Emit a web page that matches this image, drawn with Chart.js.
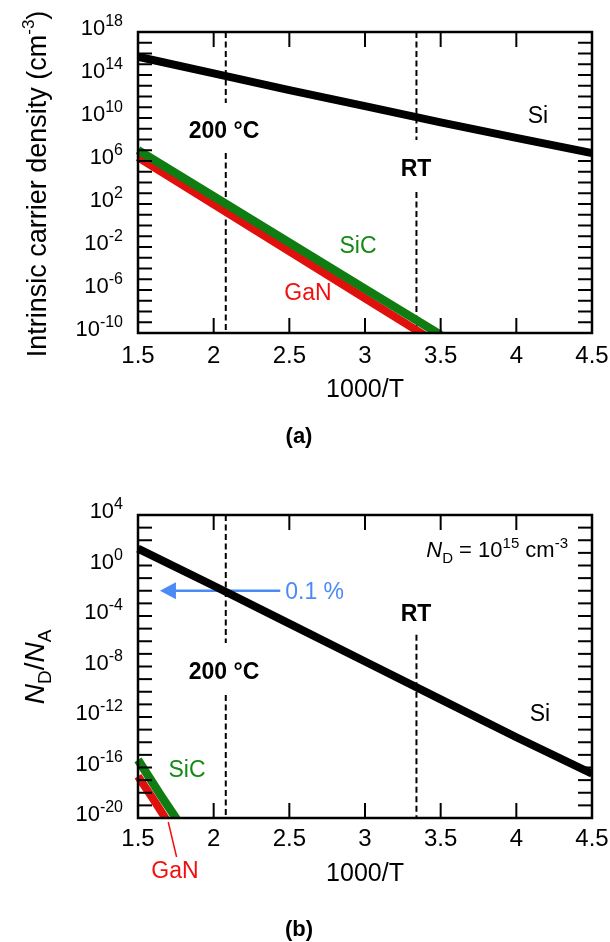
<!DOCTYPE html>
<html>
<head>
<meta charset="utf-8">
<script src="https://cdn.jsdelivr.net/npm/chart.js@4.4.1/dist/chart.umd.min.js"></script>
<style>
  html,body{margin:0;padding:0;background:#fff;}
  #wrap{position:relative;width:610px;height:942px;}
  canvas{position:absolute;left:0;}
</style>
</head>
<body>
<div id="wrap">
  <canvas id="chartA" width="610" height="470" style="top:0"></canvas>
  <canvas id="chartB" width="610" height="472" style="top:470px"></canvas>
</div>
<script>
/* ---------- data ---------- */
const xTicks = [1.5, 2, 2.5, 3, 3.5, 4, 4.5];
const xTickLabels = ['1.5', '2', '2.5', '3', '3.5', '4', '4.5'];

// (a) intrinsic carrier density
const yExpA = [18, 14, 10, 6, 2, -2, -6, -10];
const siX = [1.5, 2, 2.5, 3, 3.5, 4, 4.5];
const siNi = [5.0e15, 1.41e14, 3.98e12, 1.26e11, 3.98e9, 1.41e8, 5.6e6];
const sicX = [1.5, 2, 2.5, 3, 3.5];
const sicNi = [1.05e7, 5.2e2, 2.6e-2, 1.3e-6, 6.6e-11];
const ganX = [1.5, 2, 2.5, 3, 3.4];
const ganNi = [2.2e6, 9.3e1, 4.0e-3, 1.7e-7, 5.4e-11];

// (b) ND/NA
const yExpB = [4, 0, -4, -8, -12, -16, -20];
const siRatio = [22, 2.5e-2, 2.5e-5, 2.5e-8, 2.5e-11, 2.5e-14, 3.2e-17];
const sicRX = [1.5, 1.65, 1.8];
const sicRatio = [4e-16, 6.3e-19, 1.3e-21];
const ganRX = [1.5, 1.6, 1.75];
const ganRatio = [2e-17, 3.2e-19, 5e-22];

// reference temperatures (1000/T) and the dashed segments (y from, y to)
const x200 = 2.08, xRT = 3.34;
const dash200A = [[1e18, 2.5e11], [5.5e6, 1e-10]];
const dashRTA  = [[1e18, 9e7], [1.3e3, 1e-10]];
const dash200B = [[1e4, 7.4e-7], [5.6e-11, 1e-20]];
const dashRTB  = [[3.2e-6, 1e-20]];
const arrowY = 1e-2, arrowFrom = 2.44, arrowTo = 1.645;

/* ---------- styles ---------- */
const FONT = '"Liberation Sans", Arial, Helvetica, sans-serif';
const GREEN = '#0f7d12', GREEN_T = '#138a16';
const RED = '#e0100c', RED_T = '#f01010';
const BLUE = '#4a8af4';

const pts = (xs, ys) => xs.map((x, i) => ({x, y: ys[i]}));
function dashPts(x, segs){
  const out = [];
  segs.forEach((s, i) => {
    if(i) out.push({x, y: null});
    out.push({x, y: s[0]}, {x, y: s[1]});
  });
  return out;
}
function curve(data, color, w){
  return {data, borderColor: color, borderWidth: w, pointRadius: 0, tension: 0,
    borderCapStyle: 'butt', clip: {left: 4, top: 0, right: 0, bottom: 0}};
}
function dashed(data){
  return {data, borderColor: '#000', borderWidth: 2, borderDash: [6, 3.5], pointRadius: 0,
    spanGaps: false, clip: 0};
}

/* text with runs (sub/superscripts) */
function fontOf(r){ return `${r.it ? 'italic ' : ''}${r.b ? 'bold ' : ''}${r.s}px ${FONT}`; }
function runsWidth(ctx, runs){
  let w = 0;
  runs.forEach(r => { ctx.font = fontOf(r); w += ctx.measureText(r.t).width; });
  return w;
}
function drawRuns(ctx, runs, x, y, align, color){
  const w = runsWidth(ctx, runs);
  let cx = align === 'right' ? x - w : align === 'center' ? x - w / 2 : x;
  ctx.fillStyle = color || '#000';
  ctx.textAlign = 'left'; ctx.textBaseline = 'alphabetic';
  runs.forEach(r => {
    ctx.font = fontOf(r);
    ctx.fillText(r.t, cx, y + (r.dy || 0));
    cx += ctx.measureText(r.t).width;
  });
}
function text(ctx, n){
  drawRuns(ctx, [{t: n.t, s: n.size, b: n.bold}], n.x, n.y + 0.358 * n.size, 'center', n.color);
}
function line(ctx, x1, y1, x2, y2){ ctx.beginPath(); ctx.moveTo(x1, y1); ctx.lineTo(x2, y2); ctx.stroke(); }

/* frame, inward ticks, labels */
function framePlugin(opt){
  return {
    id: 'frame',
    afterDatasetsDraw(chart){
      const {ctx, chartArea: a, scales: {x, y}} = chart;
      ctx.save();
      ctx.strokeStyle = '#000'; ctx.lineWidth = 2;
      for(let e = opt.minExp; e <= opt.maxExp; e++){
        const py = y.getPixelForValue(Math.pow(10, e));
        line(ctx, a.left, py, a.left + 14, py);
        line(ctx, a.right - 14, py, a.right, py);
      }
      xTicks.forEach(v => {
        const px = x.getPixelForValue(v);
        line(ctx, px, a.top, px, a.top + 15);
        line(ctx, px, a.bottom - 15, px, a.bottom);
      });
      ctx.lineWidth = 2.5;
      ctx.strokeRect(a.left, a.top, a.right - a.left, a.bottom - a.top);

      // y tick labels 10^n
      opt.yExps.forEach(e => {
        const py = y.getPixelForValue(Math.pow(10, e));
        drawRuns(ctx, [{t: '10', s: 22}, {t: String(e), s: 16, dy: -9}], a.left - 15, py + 3, 'right');
      });
      // x tick labels
      xTicks.forEach((v, i) => {
        drawRuns(ctx, [{t: xTickLabels[i], s: 24}], x.getPixelForValue(v), a.bottom + opt.xLab + 8.6, 'center');
      });
      // y title
      ctx.save();
      ctx.translate(opt.yTitle.x, opt.yTitle.y);
      ctx.rotate(-Math.PI / 2);
      drawRuns(ctx, opt.yTitle.runs, 0, 0, 'center');
      ctx.restore();

      opt.notes.forEach(n => text(ctx, n));
      if(opt.extra) opt.extra(chart);
      ctx.restore();
    }
  };
}

function baseOptions(minV, maxV, padTop, xH){
  return {
    responsive: false, animation: false,
    layout: {padding: {top: padTop, right: 18, left: 0, bottom: 0}},
    plugins: {legend: {display: false}, tooltip: {enabled: false}},
    scales: {
      x: {type: 'linear', min: 1.5, max: 4.5, grid: {display: false}, border: {display: false},
          ticks: {display: false}, afterFit: s => { s.height = xH; }},
      y: {type: 'logarithmic', min: minV, max: maxV, grid: {display: false}, border: {display: false},
          ticks: {display: false}, afterFit: s => { s.width = 138; }}
    }
  };
}

/* ---------- (a) ---------- */
new Chart(document.getElementById('chartA'), {
  type: 'line',
  data: {datasets: [
    curve(pts(siX, siNi), '#000', 8),
    curve(pts(sicX, sicNi), GREEN, 8.5),
    curve(pts(ganX, ganNi), RED, 8),
    dashed(dashPts(x200, dash200A)),
    dashed(dashPts(xRT, dashRTA))
  ]},
  options: baseOptions(1e-10, 1e18, 32, 137),
  plugins: [framePlugin({
    minExp: -10, maxExp: 18, yExps: yExpA, xLab: 21,
    yTitle: {x: 46, y: 184, runs: [{t: 'Intrinsic carrier density (cm', s: 27}, {t: '-3', s: 17, dy: -12}, {t: ')', s: 27}]},
    notes: [
      {t: 'Si', x: 538, y: 115, size: 23},
      {t: 'SiC', x: 358, y: 245, size: 23, color: GREEN_T},
      {t: 'GaN', x: 308, y: 292, size: 23, color: RED_T},
      {t: '200 °C', x: 224, y: 130, size: 23, bold: true},
      {t: 'RT', x: 416, y: 168, size: 23, bold: true},
      {t: '1000/T', x: 365, y: 388, size: 25},
      {t: '(a)', x: 299, y: 435, size: 22, bold: true}
    ]
  })]
});

/* ---------- (b) ---------- */
new Chart(document.getElementById('chartB'), {
  type: 'line',
  data: {datasets: [
    curve(pts(siX, siRatio), '#000', 8),
    curve(pts(sicRX, sicRatio), GREEN, 8.5),
    curve(pts(ganRX, ganRatio), RED, 8),
    dashed(dashPts(x200, dash200B)),
    dashed(dashPts(xRT, dashRTB)),
    {data: [{x: arrowFrom, y: arrowY}, {x: arrowTo + 0.05, y: arrowY}], borderColor: BLUE, borderWidth: 2.5, pointRadius: 0, clip: 0}
  ]},
  options: baseOptions(1e-20, 1e4, 45, 124),
  plugins: [framePlugin({
    minExp: -20, maxExp: 4, yExps: yExpB, xLab: 19,
    yTitle: {x: 44, y: 197, runs: [{t: 'N', s: 28, it: true}, {t: 'D', s: 19, dy: 7}, {t: '/', s: 28}, {t: 'N', s: 28, it: true}, {t: 'A', s: 19, dy: 7}]},
    notes: [
      {t: 'Si', x: 540, y: 243, size: 23},
      {t: 'SiC', x: 187, y: 299, size: 23, color: GREEN_T},
      {t: 'GaN', x: 175, y: 400, size: 23, color: RED_T},
      {t: '200 °C', x: 224, y: 201, size: 23, bold: true},
      {t: 'RT', x: 416, y: 143, size: 23, bold: true},
      {t: '1000/T', x: 365, y: 402, size: 25},
      {t: '(b)', x: 299, y: 458, size: 22, bold: true}
    ],
    extra(chart){
      const {ctx, chartArea: a, scales: {x, y}} = chart;
      // arrow head
      const tx = x.getPixelForValue(arrowTo), ty = y.getPixelForValue(arrowY);
      ctx.fillStyle = BLUE;
      ctx.beginPath(); ctx.moveTo(tx, ty); ctx.lineTo(tx + 16, ty - 8.5); ctx.lineTo(tx + 16, ty + 8.5); ctx.closePath(); ctx.fill();
      drawRuns(ctx, [{t: '0.1 %', s: 23}], x.getPixelForValue(arrowFrom) + 5, ty + 8, 'left', BLUE);
      // ND label
      drawRuns(ctx, [{t: 'N', s: 22, it: true}, {t: 'D', s: 15, dy: 6}, {t: ' = 10', s: 22}, {t: '15', s: 15, dy: -9},
        {t: ' cm', s: 22}, {t: '-3', s: 15, dy: -9}], 568, 87, 'right');
      // GaN leader
      ctx.strokeStyle = RED_T; ctx.lineWidth = 1.5;
      line(ctx, x.getPixelForValue(1.70), a.bottom + 4, x.getPixelForValue(1.755), a.bottom + 39);
    }
  })]
});
</script>
</body>
</html>
